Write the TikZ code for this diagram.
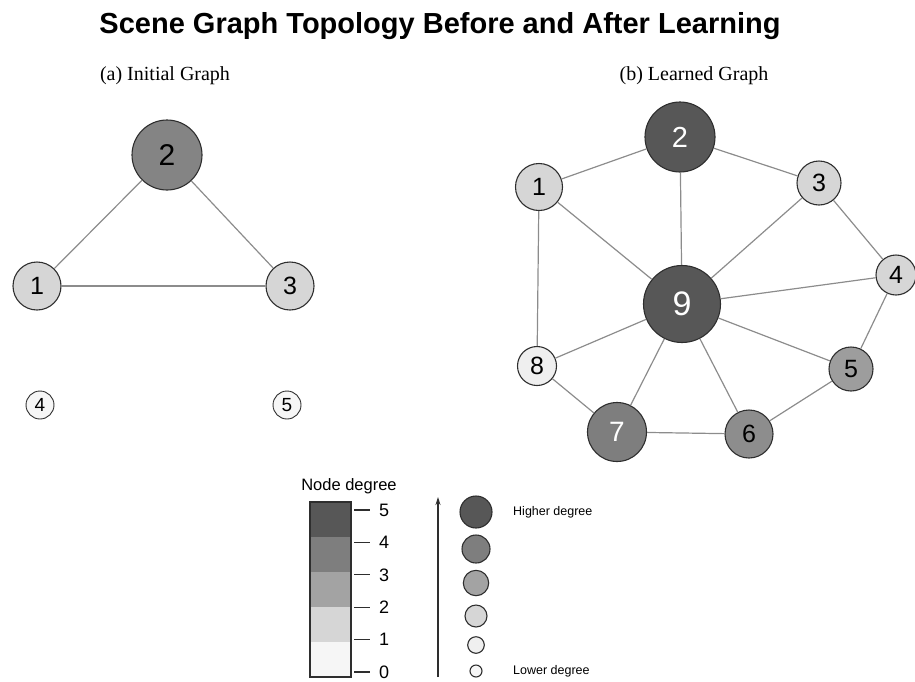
\documentclass[tikz,border=0pt]{standalone}
\usepackage{fontspec}
\setmainfont{Liberation Serif}
\setsansfont{Liberation Sans}
\usetikzlibrary{arrows.meta}
\usetikzlibrary{calc}
\usepackage{xcolor}

\definecolor{degfive}{HTML}{575757}
\definecolor{degfour}{HTML}{7E7E7E}
\definecolor{degthree}{HTML}{A3A3A3}
\definecolor{degtwo}{HTML}{D6D6D6}
\definecolor{degone}{HTML}{EFEFEF}
\definecolor{degzero}{HTML}{F6F6F6}
\definecolor{edgegray}{HTML}{8C8C8C}
\definecolor{rimgray}{HTML}{2E2E2E}

\begin{document}
\begin{tikzpicture}[x=1pt,y=-1pt,
    vertex/.style={circle, draw=rimgray, line width=1.1pt, inner sep=0pt,
      font=\sffamily\fontsize{25}{25}\selectfont},
    edge/.style={draw=edgegray, line width=1.2pt},
    ticklabel/.style={anchor=west, inner sep=0pt, font=\sffamily\fontsize{18}{18}\selectfont},
    legendtext/.style={anchor=west, inner sep=0pt, font=\sffamily\fontsize{12.5}{12.5}\selectfont}]
      \useasboundingbox (0,0) rectangle (915,681);

      % Titles
      \node[anchor=base, font=\sffamily\bfseries\fontsize{29}{34}\selectfont] (title) at (440,33)
        {Scene Graph Topology Before and After Learning};
      \node[anchor=base, font=\fontsize{20}{22}\selectfont] (suba) at (165,80) {(a) Initial Graph};
      \node[anchor=base, font=\fontsize{20}{22}\selectfont] (subb) at (694,80) {(b) Learned Graph};

      % (a) Initial graph
      \node[vertex, fill=degfour!85!degthree, minimum size=70, font=\sffamily\fontsize{30}{30}\selectfont] (a2) at (167,155) {2};
      \node[vertex, fill=degtwo, minimum size=48] (a1) at (37,286) {1};
      \node[vertex, fill=degtwo, minimum size=48] (a3) at (290,286) {3};
      \node[vertex, fill=degzero, minimum size=28, line width=0.9pt, font=\sffamily\fontsize{19}{19}\selectfont] (a4) at (40,405) {4};
      \node[vertex, fill=degzero, minimum size=28, line width=0.9pt, font=\sffamily\fontsize{19}{19}\selectfont] (a5) at (287,405) {5};
      \foreach \u/\v in {a1/a2, a2/a3, a1/a3}
        \draw[edge] (\u) -- (\v);

      % (b) Learned graph
      \node[vertex, fill=degfive, text=white, minimum size=70, font=\sffamily\fontsize{29}{29}\selectfont] (b2) at (680,137) {2};
      \node[vertex, fill=degfive, text=white, minimum size=77, font=\sffamily\fontsize{34}{34}\selectfont] (b9) at (682,304) {9};
      \node[vertex, fill=degtwo, minimum size=47] (b1) at (539,187) {1};
      \node[vertex, fill=degtwo, minimum size=44] (b3) at (819,183) {3};
      \node[vertex, fill=degtwo, minimum size=40] (b4) at (896,275) {4};
      \node[vertex, fill=degthree!85!degfour, minimum size=44] (b5) at (851,369) {5};
      \node[vertex, fill=degfour!60!degthree, minimum size=48] (b6) at (749,434) {6};
      \node[vertex, fill=degfour, text=white, minimum size=59, font=\sffamily\fontsize{28}{28}\selectfont] (b7) at (617,432) {7};
      \node[vertex, fill=degone, minimum size=39] (b8) at (537,366) {8};
      \foreach \u/\v in {b1/b2, b2/b3, b2/b9, b1/b9, b1/b8, b3/b9, b3/b4, b4/b9,
                         b4/b5, b9/b8, b9/b7, b9/b6, b9/b5, b8/b7, b7/b6, b6/b5}
        \draw[edge] (\u) -- (\v);

      % Legend: colour bar
      \node[anchor=base, inner sep=0pt, font=\sffamily\fontsize{16.5}{16.5}\selectfont] (legtitle) at (349,490) {Node degree};
      \foreach \k/\c in {0/degfive, 1/degfour, 2/degthree, 3/degtwo, 4/degzero}
        \fill[\c] (310,502+35*\k) rectangle (351,537+35*\k);
      \draw[rimgray, line width=1.1pt] (310,502) rectangle (351,677);
      \foreach \d [count=\i from 0] in {5,4,3,2,1,0}
      {
        \coordinate (T\d) at (354,510+32.4*\i);
        \draw[rimgray, line width=1.2pt] (T\d) -- ++(16,0);
        \node[ticklabel] (L\d) at ($(T\d)+(25,0)$) {\d};
      }

      % Legend: size scale
      \coordinate (arrlow) at (438,677);
      \coordinate (arrhigh) at (438,497);
      \draw[rimgray, line width=1.1pt, -{Stealth[length=8pt,width=5pt]}] (arrlow) -- (arrhigh);
      \foreach \r/\y/\c in {16/512/degfive, 14/549/degfour, 12.7/583/degthree,
                            11/616/degtwo, 8.3/645/degone, 6/671/degzero}
        \node[circle, draw=rimgray, line width=1.1pt, fill=\c, inner sep=0pt, minimum size=2*\r] (S\y) at (476,\y) {};
      \node[legendtext] (higher) at (513,512) {Higher degree};
      \node[legendtext] (lower) at (513,671) {Lower degree};
\end{tikzpicture}
\end{document}
